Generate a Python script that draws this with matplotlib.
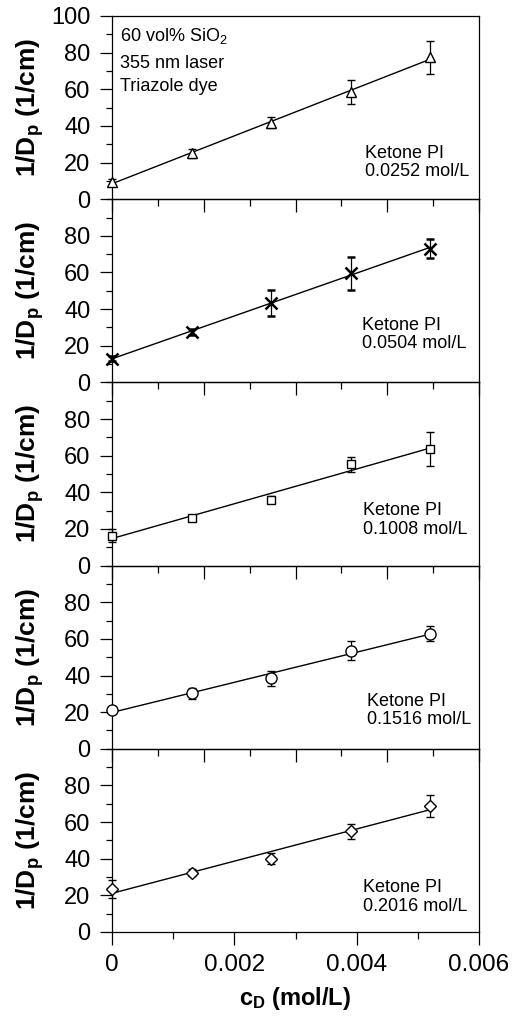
import matplotlib

matplotlib.use("Agg")
import matplotlib.pyplot as plt
import numpy as np
from matplotlib.ticker import MultipleLocator, NullFormatter

plt.rcParams["font.family"] = ["Liberation Sans", "DejaVu Sans"]
plt.rcParams["mathtext.fontset"] = "custom"
plt.rcParams["mathtext.rm"] = "Liberation Sans"
plt.rcParams["mathtext.bf"] = "Liberation Sans:bold"
plt.rcParams["mathtext.it"] = "Liberation Sans:italic"

# photoinitiator dye concentration (mol/L)
C_D = [0.0, 0.0013, 0.0026, 0.0039, 0.0052]
# one row per ketone PI concentration
PI_LABELS = ["0.0252 mol/L", "0.0504 mol/L", "0.1008 mol/L", "0.1516 mol/L", "0.2016 mol/L"]
MARKERS = ["^", "x", "s", "o", "D"]
INV_DP = [
    [9.3, 25.0, 41.8, 58.6, 77.4],
    [13.0, 27.5, 43.5, 59.5, 73.0],
    [16.4, 26.2, 35.9, 55.2, 63.6],
    [21.1, 30.2, 38.4, 53.6, 62.8],
    [23.3, 32.3, 40.1, 55.0, 69.0],
]
INV_DP_ERR = [
    [1.8, 2.3, 3.0, 6.6, 8.8],
    [1.2, 1.6, 7.0, 8.8, 5.0],
    [3.3, 1.5, 2.0, 4.0, 9.5],
    [1.5, 3.0, 4.0, 5.0, 4.0],
    [4.8, 2.0, 3.0, 4.2, 6.0],
]
MSIZE = {"^": 7, "x": 8, "s": 6, "o": 8, "D": 6}
# where the "Ketone PI" note sits in each panel (axes fraction)
NOTE_XY = [(0.69, 0.20), (0.68, 0.262), (0.685, 0.249), (0.695, 0.21), (0.685, 0.191)]

fig, axes = plt.subplots(5, 1, figsize=(5.12, 10.19), dpi=100)
fig.subplots_adjust(left=0.219, right=0.9355, bottom=0.0854, top=0.9843, hspace=0)

for i, ax in enumerate(axes):
    ax.set_facecolor("none")
    x = np.array(C_D)
    y = np.array(INV_DP[i])
    slope, icpt = np.polyfit(x, y, 1)
    ax.plot([x[0], x[-1]], [icpt, icpt + slope * x[-1]], color="black", lw=1.0, zorder=2)
    m = MARKERS[i]
    ax.errorbar(x, y, yerr=INV_DP_ERR[i], fmt=m, ms=MSIZE[m],
                mfc="white" if m != "x" else "black", mec="black",
                mew=1.8 if m == "x" else 1.0,
                ecolor="black", elinewidth=0.9, capsize=3.2, capthick=0.9, zorder=3, clip_on=False)
    ax.set_xlim(0, 0.006)
    ax.set_ylim(0, 100)
    ax.yaxis.set_minor_locator(MultipleLocator(10))
    ax.tick_params(axis="y", which="major", direction="out", length=8.5, width=0.9,
                   labelsize=17, pad=7)
    ax.tick_params(axis="y", which="minor", direction="out", length=4.5, width=0.9)
    ax.tick_params(axis="y", which="both", right=False)
    if i < 4:
        ax.xaxis.set_major_locator(MultipleLocator(0.0015))
        ax.xaxis.set_minor_locator(MultipleLocator(0.00075))
        ax.xaxis.set_major_formatter(NullFormatter())
        ax.set_yticks([0, 20, 40, 60, 80, 100] if i == 0 else [0, 20, 40, 60, 80])
    else:
        ax.xaxis.set_minor_locator(MultipleLocator(0.001))
        ax.set_xticks([0, 0.002, 0.004, 0.006])
        ax.set_xticklabels(["0", "0.002", "0.004", "0.006"])
        ax.set_yticks([0, 20, 40, 60, 80])
    ax.tick_params(axis="x", which="major", direction="out", length=9, width=0.9,
                   labelsize=17.5, pad=7, top=False)
    ax.tick_params(axis="x", which="minor", direction="out", length=5, width=0.9, top=False)
    for sp in ax.spines.values():
        sp.set_linewidth(0.9)
    ax.set_ylabel(r"$\mathbf{1/D_p}$ (1/cm)", fontsize=19, fontweight="bold")
    nx, ny = NOTE_XY[i]
    ax.text(nx, ny, "Ketone PI\n" + PI_LABELS[i], transform=ax.transAxes,
            fontsize=13, ha="left", va="center", linespacing=1.1)

for txt, yf in zip(["60 vol% SiO$_2$", "355 nm laser", "Triazole dye"], [0.89, 0.743, 0.617]):
    axes[0].text(0.022, yf, txt, transform=axes[0].transAxes, fontsize=13,
                 ha="left", va="center")
axes[-1].set_xlabel(r"$\mathbf{c_D}$ (mol/L)", fontsize=17, fontweight="bold", labelpad=6)
for ax in axes:
    ax.yaxis.set_label_coords(-0.18, 0.5)

fig.savefig("out.png", dpi=100)
